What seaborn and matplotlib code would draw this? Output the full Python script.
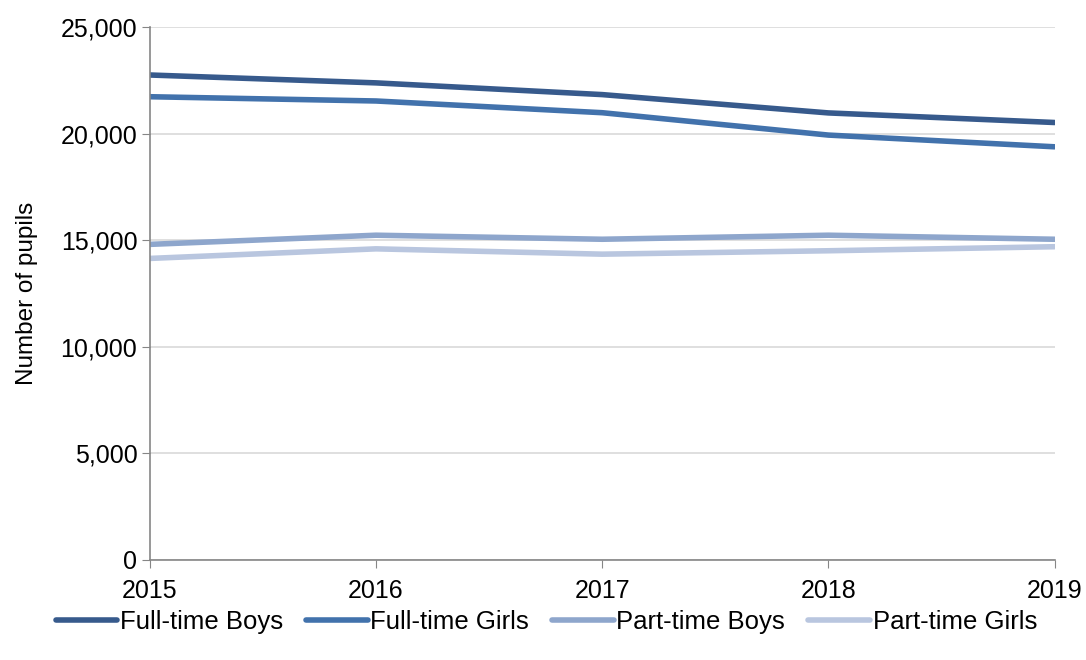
import seaborn as sns
import matplotlib.pyplot as plt
import pandas as pd
from matplotlib.ticker import FuncFormatter

years = [2015, 2016, 2017, 2018, 2019]
ft_boys = [22750, 22380, 21830, 20970, 20520]
ft_girls = [21730, 21530, 20980, 19930, 19380]
pt_boys = [14800, 15230, 15040, 15230, 15040]
pt_girls = [14140, 14590, 14340, 14500, 14690]

series = ["Full-time Boys", "Full-time Girls", "Part-time Boys", "Part-time Girls"]
colours = ["#375a8c", "#4272ac", "#8ea6cc", "#b9c6df"]

df = pd.DataFrame({"Year": years * 4,
                   "Pupils": ft_boys + ft_girls + pt_boys + pt_girls,
                   "Group": [s for s in series for _ in years]})

sns.set_style("white")
plt.rcParams["font.family"] = ["Liberation Sans", "DejaVu Sans"]
plt.rcParams["text.color"] = "black"

fig, ax = plt.subplots(figsize=(10.86, 6.6), dpi=100)
sns.lineplot(data=df, x="Year", y="Pupils", hue="Group", hue_order=series,
             palette=colours, linewidth=4, ax=ax, legend=True)

ax.set_xlim(2015, 2019)
ax.set_ylim(0, 25000)
ax.set_xticks(years)
ax.set_yticks(range(0, 25001, 5000))
ax.yaxis.set_major_formatter(FuncFormatter(lambda v, p: f"{int(v):,}"))
ax.grid(axis="y", color="#d9d9d9", linewidth=1.2)
ax.set_axisbelow(True)
for s in ["top", "right"]:
    ax.spines[s].set_visible(False)
ax.spines["left"].set_color("#868686")
ax.spines["bottom"].set_color("#868686")
ax.spines["left"].set_linewidth(1.2)
ax.spines["bottom"].set_linewidth(1.2)
ax.tick_params(axis="both", labelsize=18, labelcolor="black", length=6,
               direction="out", left=True, bottom=True, color="#868686")
ax.tick_params(axis="y", pad=3)
ax.tick_params(axis="x", pad=8)
ax.set_xlabel("")
ax.set_ylabel("Number of pupils", fontsize=17.5, color="black", labelpad=16)

handles, labels = ax.get_legend_handles_labels()
ax.get_legend().remove()
fig.legend(handles, labels, loc="center", bbox_to_anchor=(0.503, 0.058), ncol=4,
           frameon=False, fontsize=18.5, handlelength=2.4, handletextpad=0.1,
           columnspacing=0.9)

plt.subplots_adjust(left=0.138, right=0.971, top=0.959, bottom=0.152)
fig.savefig("out.png", dpi=100)
